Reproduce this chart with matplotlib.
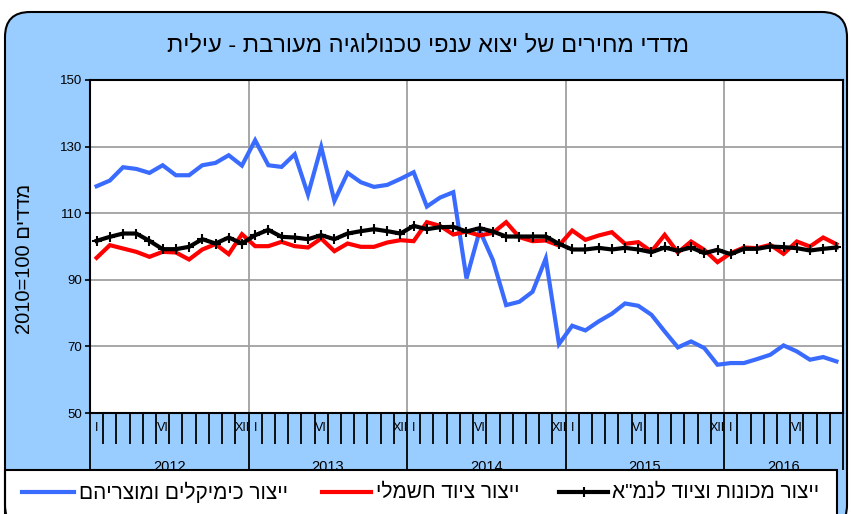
import matplotlib
matplotlib.use("Agg")
import matplotlib.pyplot as plt
from matplotlib.patches import FancyBboxPatch, Rectangle
from matplotlib.lines import Line2D
import matplotlib.transforms as mtransforms
import numpy as np

plt.rcParams['font.family'] = ['Liberation Sans', 'DejaVu Sans']

# ---------------- data ----------------
years = ['2012', '2013', '2014', '2015', '2016']
months_per_year = [12, 12, 12, 12, 9]
month_labels = {0: 'I', 5: 'VI', 11: 'XII'}

chemicals = [118.1, 119.8, 123.8, 123.3, 122.1, 124.4, 121.4, 121.4, 124.4, 125.1, 127.4, 124.3,
             131.9, 124.4, 123.9, 127.7, 115.6, 129.9, 113.7, 122.1, 119.3, 117.9, 118.5, 120.3,
             122.3, 112.0, 114.7, 116.3, 90.4, 104.8, 95.9, 82.4, 83.4, 86.4, 96.4, 70.7,
             76.2, 74.8, 77.5, 79.8, 82.9, 82.2, 79.5, 74.5, 69.7, 71.5, 69.5, 64.5,
             65.0, 65.0, 66.2, 67.5, 70.3, 68.5, 66.0, 66.8, 65.5]
electrical = [96.6, 100.4, 99.4, 98.4, 96.9, 98.4, 98.2, 96.1, 99.1, 100.7, 97.7, 103.7,
              100.1, 100.1, 101.4, 100.1, 99.7, 102.4, 98.6, 100.9, 99.9, 99.9, 101.2, 101.9,
              101.6, 107.3, 106.2, 103.6, 104.5, 103.3, 104.1, 107.3, 102.8, 101.6, 101.8, 100.3,
              104.8, 102.0, 103.3, 104.3, 100.8, 101.3, 98.5, 103.5, 98.2, 101.5, 99.0, 95.3,
              98.0, 99.7, 99.5, 100.5, 97.8, 101.5, 100.0, 102.7, 100.7]
machinery = [101.7, 102.9, 103.9, 103.9, 101.7, 99.2, 99.2, 99.9, 102.2, 100.9, 102.7, 100.9,
             103.4, 105.0, 102.9, 102.7, 102.2, 103.4, 102.2, 103.9, 104.6, 105.2, 104.6, 103.9,
             106.2, 105.2, 105.8, 105.9, 104.5, 105.5, 104.5, 103.0, 103.0, 103.0, 103.0, 100.8,
             99.1, 99.1, 99.6, 99.1, 99.6, 99.1, 98.3, 99.7, 98.7, 99.7, 98.0, 99.0,
             97.7, 99.3, 99.3, 100.0, 99.8, 99.5, 98.8, 99.3, 99.7]

series_names = ['ייצור כימיקלים ומוצריהם', 'ייצור ציוד חשמלי', 'ייצור מכונות וציוד לנמ"א']
title_text = 'מדדי מחירים של יצוא ענפי טכנולוגיה מעורבת - עילית'
ylabel_heb = 'מדדים'
ylabel_num = '2010=100'


def vis(s):
    # visual (left-to-right) order for pure Hebrew text
    return s[::-1]


BLUE = '#3A6BFF'
RED = '#FF0000'
BG = '#99CCFF'

W, H = 851, 514
fig = plt.figure(figsize=(W / 100, H / 100), dpi=100)
fig.patch.set_facecolor('white')


def px2in_box(x0, y0_top, x1, y1_top):
    return x0 / 100, (H - y1_top) / 100, (x1 - x0) / 100, (y1_top - y0_top) / 100


# outer frame fill
fx, fy, fw, fh = px2in_box(5, 12, 847, 530)
frame_fill = FancyBboxPatch((fx, fy), fw, fh, boxstyle='round,pad=0,rounding_size=0.25',
                            transform=fig.dpi_scale_trans, facecolor=BG, edgecolor='none',
                            zorder=-10)
fig.add_artist(frame_fill)

# axes
ax = fig.add_axes([90 / W, 101 / H, 753 / W, 333 / H])
ax.set_zorder(1)
n = len(chemicals)
x = np.arange(n)

ax.plot(x, chemicals, color=BLUE, lw=3, zorder=3, solid_joinstyle='miter')
ax.plot(x, electrical, color=RED, lw=3, zorder=4, solid_joinstyle='miter')
ax.plot(x, machinery, color='black', lw=3, marker='+', ms=7, mew=1.5, zorder=5,
        solid_joinstyle='miter')

ax.set_xlim(-0.5, n - 0.5)
ax.set_ylim(50, 150)
ax.set_yticks([50, 70, 90, 110, 130, 150])
ax.tick_params(axis='y', direction='out', length=3.6, width=1.2, pad=2, labelsize=9.5)
ax.set_facecolor('white')
for sp in ax.spines.values():
    sp.set_linewidth(1.5)
    sp.set_color('black')

# grid
ax.yaxis.grid(True, color='#A0A0A0', lw=1.3, zorder=0)
bounds = np.cumsum([0] + months_per_year) - 0.5
for b in bounds[1:-1]:
    ax.axvline(b, color='#A0A0A0', lw=1.3, zorder=0)

# month ticks (minor) and year boundaries (major)
major = list(bounds)
minor = [i - 0.5 for i in range(1, n) if (i - 0.5) not in major]
ax.set_xticks(major)
ax.set_xticks(minor, minor=True)
ax.tick_params(axis='x', which='major', direction='out', length=41, width=1.3,
               labelbottom=False)
ax.tick_params(axis='x', which='minor', direction='out', length=22, width=1.3,
               labelbottom=False)

trans = mtransforms.blended_transform_factory(ax.transData, ax.transAxes)
start = 0
for yr, m in zip(years, months_per_year):
    for k in range(m):
        if k in month_labels:
            ax.text(start + k, -0.045, month_labels[k], transform=trans, ha='center',
                    va='center', fontsize=9, clip_on=False)
    ax.text(start + (m - 1) / 2, -0.163, yr, transform=trans, ha='center', va='center',
            fontsize=10.5, clip_on=False)
    start += m

# y label
fig.text(25 / W, (H - 259) / H, ylabel_num + ' ' + vis(ylabel_heb), rotation=90,
         ha='center', va='center', fontsize=14.5)

# title
fig.text(428 / W, (H - 45) / H, vis(title_text), ha='center', va='center', fontsize=17)

# legend box
lx, ly, lw_, lh = px2in_box(5, 470, 837, 540)
leg_box = Rectangle((lx, ly), lw_, lh, transform=fig.dpi_scale_trans, facecolor='white',
                    edgecolor='black', lw=1.5, zorder=5)
fig.add_artist(leg_box)

ly_px = 492
entries = [
    (22, 74, 79, BLUE, None, series_names[0]),
    (322, 371, 376, RED, None, series_names[1]),
    (559, 608, 612, 'black', '+', series_names[2]),
]
for x0, x1, tx, col, mk, name in entries:
    ln = Line2D([x0 / W, x1 / W], [(H - ly_px) / H] * 2, color=col, lw=3,
                transform=fig.transFigure, zorder=7)
    fig.add_artist(ln)
    if mk:
        mkl = Line2D([(x0 + x1) / 2 / W], [(H - ly_px) / H], color=col, marker='+', ms=7,
                     mew=1.5, transform=fig.transFigure, zorder=7)
        fig.add_artist(mkl)
    fig.text(tx / W, (H - ly_px) / H, vis(name), ha='left', va='center', fontsize=15,
             zorder=7)

# frame edge on top
frame_edge = FancyBboxPatch((fx, fy), fw, fh, boxstyle='round,pad=0,rounding_size=0.25',
                            transform=fig.dpi_scale_trans, facecolor='none',
                            edgecolor='black', lw=1.5, zorder=8)
fig.add_artist(frame_edge)

fig.savefig('out.png', dpi=100)
